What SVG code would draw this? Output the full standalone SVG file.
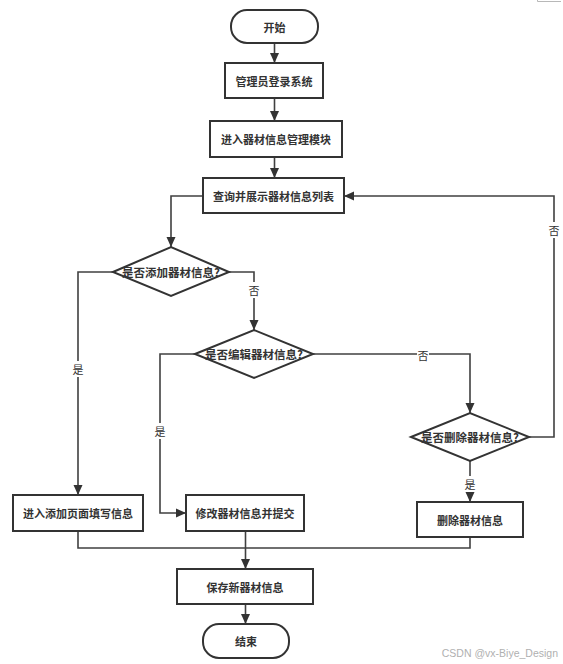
<svg xmlns="http://www.w3.org/2000/svg" width="563" height="664" viewBox="0 0 563 664">
<style>
  .shape { fill: #ffffff; stroke: #333333; stroke-width: 2; }
  .txt { font-family: "Noto Sans CJK SC", "Noto Sans", sans-serif; font-size: 11px; font-weight: bold; fill: #333333; text-anchor: middle; dominant-baseline: central; }
  .dtxt { font-family: "Noto Sans CJK SC", "Noto Sans", sans-serif; font-size: 11.5px; font-weight: bold; fill: #333333; text-anchor: middle; dominant-baseline: central; }
  .edge { fill: none; stroke: #404040; stroke-width: 1.6; }
  .lbl { font-family: "Noto Sans CJK SC", "Noto Sans", sans-serif; font-size: 11px; fill: #333333; text-anchor: middle; dominant-baseline: central; }
  .lblbg { fill: #ffffff; }
  .wm { font-family: "Liberation Sans", Arial, sans-serif; font-size: 10.5px; fill: #b0b0b0; text-anchor: end; }
</style>
<defs>
  <marker id="arrow" markerUnits="userSpaceOnUse" markerWidth="10" markerHeight="10" viewBox="0 0 10 10" refX="10" refY="5" orient="auto">
    <path d="M0,0.5 L10,5 L0,9.5 Z" fill="#333333"/>
  </marker>
</defs>
<rect width="563" height="664" fill="#ffffff"/>
<path d="M537.5,0 V1.5 H561" fill="none" stroke="#b8b8b8" stroke-width="1"/>

<g id="connectors">
  <path class="edge" d="M274.5,43 V63" marker-end="url(#arrow)"/>
  <path class="edge" d="M274.5,98 V121" marker-end="url(#arrow)"/>
  <path class="edge" d="M274.5,157 V178" marker-end="url(#arrow)"/>
  <path class="edge" d="M203,196 H171 V247" marker-end="url(#arrow)"/>
  <path class="edge" d="M113,272 H78 V495" marker-end="url(#arrow)"/>
  <path class="edge" d="M229,272 H254 V330" marker-end="url(#arrow)"/>
  <path class="edge" d="M195,354 H160 V513 H186" marker-end="url(#arrow)"/>
  <path class="edge" d="M313,354 H470 V413" marker-end="url(#arrow)"/>
  <path class="edge" d="M529,437 H554 V196 H344" marker-end="url(#arrow)"/>
  <path class="edge" d="M470,461 V502" marker-end="url(#arrow)"/>
  <path class="edge" d="M78,531 V548 H470 V537"/>
  <path class="edge" d="M245.5,531 V569" marker-end="url(#arrow)"/>
  <path class="edge" d="M245.5,604 V624" marker-end="url(#arrow)"/>
  <g id="edge-labels">
    <rect class="lblbg" x="72" y="361" width="12" height="16"/>
    <text class="lbl" x="78" y="369">是</text>
    <rect class="lblbg" x="248" y="282" width="12" height="16"/>
    <text class="lbl" x="254" y="290">否</text>
    <rect class="lblbg" x="154" y="423" width="12" height="16"/>
    <text class="lbl" x="160" y="431">是</text>
    <rect class="lblbg" x="417" y="347" width="12" height="16"/>
    <text class="lbl" x="423" y="355">否</text>
    <rect class="lblbg" x="548" y="222" width="12" height="16"/>
    <text class="lbl" x="554" y="230">否</text>
    <rect class="lblbg" x="464" y="476" width="12" height="16"/>
    <text class="lbl" x="470" y="484">是</text>
  </g>
</g>

<g id="start">
  <rect class="shape" x="231" y="10" width="87" height="33" rx="16" ry="16"/>
  <text class="txt" x="274.5" y="26.5">开始</text>
</g>
<g id="login">
  <rect class="shape" x="225" y="63" width="98" height="35"/>
  <text class="txt" x="274" y="80.5">管理员登录系统</text>
</g>
<g id="enter-module">
  <rect class="shape" x="210" y="121" width="132" height="36"/>
  <text class="txt" x="276" y="139">进入器材信息管理模块</text>
</g>
<g id="list">
  <rect class="shape" x="203" y="178" width="141" height="35"/>
  <text class="txt" x="273.5" y="195.5">查询并展示器材信息列表</text>
</g>
<g id="add-decision">
  <polygon class="shape" points="113,272 171,247 229,272 171,296"/>
  <text class="dtxt" x="171" y="272">是否添加器材信息?</text>
</g>
<g id="edit-decision">
  <polygon class="shape" points="195,354 254,330 313,354 254,378"/>
  <text class="dtxt" x="254" y="354">是否编辑器材信息?</text>
</g>
<g id="delete-decision">
  <polygon class="shape" points="411,437 470,413 529,437 470,461"/>
  <text class="dtxt" x="470" y="437">是否删除器材信息?</text>
</g>
<g id="add-page">
  <rect class="shape" x="13" y="495" width="130" height="36"/>
  <text class="txt" x="78" y="513">进入添加页面填写信息</text>
</g>
<g id="edit-submit">
  <rect class="shape" x="186" y="495" width="118" height="36"/>
  <text class="txt" x="245" y="513">修改器材信息并提交</text>
</g>
<g id="delete">
  <rect class="shape" x="417" y="502" width="106" height="35"/>
  <text class="txt" x="470" y="519.5">删除器材信息</text>
</g>
<g id="save">
  <rect class="shape" x="177" y="569" width="136" height="35"/>
  <text class="txt" x="245" y="586.5">保存新器材信息</text>
</g>
<g id="end">
  <rect class="shape" x="203" y="624" width="86" height="34" rx="16" ry="16"/>
  <text class="txt" x="246" y="641">结束</text>
</g>
<text class="wm" x="558" y="657">CSDN @vx-Biye_Design</text>
</svg>
